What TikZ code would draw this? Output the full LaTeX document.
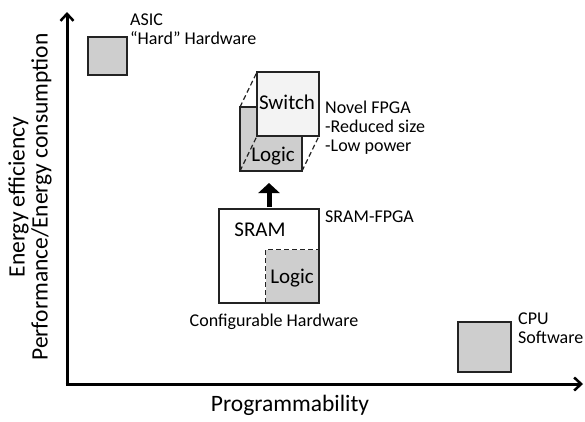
\documentclass[tikz,border=0pt]{standalone}
\usepackage{fontspec}
\setmainfont{Carlito}
\usetikzlibrary{arrows.meta}
\definecolor{boxgray}{RGB}{206,206,206}
\definecolor{lightface}{RGB}{243,243,243}
\definecolor{edge}{RGB}{35,35,35}
\tikzset{
  chip/.style={draw=edge, line width=2.4, inner sep=0, outer sep=0},
  hidden/.style={draw=edge, line width=1.2, dash pattern=on 5pt off 3pt},
  axis/.style={line width=3, -{Straight Barb[length=7pt,width=13pt,line width=2.5pt]}},
  smalllabel/.style={font=\fontsize{18}{19}\selectfont, align=left, inner sep=0, anchor=west},
  boxlabel/.style={font=\fontsize{21}{21}\selectfont, inner sep=0},
  axislabel/.style={font=\fontsize{23.5}{23}\selectfont, inner sep=0, align=center}
}
\begin{document}
\begin{tikzpicture}[x=1pt, y=-1pt]
\useasboundingbox (0,0) rectangle (585,421);

% axes
\coordinate (origin) at (67,384);
\coordinate (ytip) at (67,12);
\coordinate (xtip) at (583,384);
\draw[axis] ([yshift=-1.5pt]origin) -- (ytip);
\draw[axis] ([xshift=-1.5pt]origin) -- (xtip);

\node[axislabel, rotate=90] (ylab) at (30,197) {Energy efficiency\\Performance/Energy consumption};
\node[axislabel] (xlab) at (290,405) {Programmability};

% ASIC
\node[chip, fill=boxgray, minimum width=39, minimum height=38] (asic) at (107.5,56) {};
\node[smalllabel] (asiclab) at (130,29) {ASIC\\“Hard” Hardware};

% CPU
\node[chip, fill=boxgray, minimum width=53, minimum height=50] (cpu) at (484.5,347) {};
\node[smalllabel] (cpulab) at (518,328) {CPU\\Software};

% SRAM-FPGA
\node[chip, fill=white, minimum width=100, minimum height=94] (sram) at (269,256) {};
\node[fill=boxgray, inner sep=0, minimum width=53, minimum height=53] (slogic) at (292.5,276.5) {};
\draw[hidden] (slogic.south west) -- (slogic.north west) -- (slogic.north east);
\draw[chip] (sram.south west) rectangle (sram.north east);
\node[boxlabel] (sramtxt) at (260,230) {SRAM};
\node[boxlabel] (slogictxt) at (292,278) {Logic};
\node[smalllabel] (sramlab) at (325,217) {SRAM-FPGA};
\node[smalllabel, anchor=center] (conflab) at (274,322) {Configurable Hardware};

% Novel FPGA: logic layer under the switch layer
\node[chip, fill=boxgray, minimum width=62, minimum height=64] (nlogic) at (271,139) {};
\draw[hidden] (nlogic.south west) -- (288-31,136);
\node[chip, fill=lightface, minimum width=62, minimum height=64] (switch) at (288,104) {};
\draw[hidden] (nlogic.north west) -- (switch.north west);
\draw[hidden] (nlogic.south east) -- (switch.south east);
\node[boxlabel] (switchtxt) at (287,102) {Switch};
\node[boxlabel] (nlogictxt) at (273,156) {Logic};
\node[smalllabel] (novellab) at (325,128) {Novel FPGA\\-Reduced size\\-Low power};

% evolution arrow, straight up from the SRAM-FPGA
\draw[line width=5, -{Triangle[length=10pt,width=21pt]}]
  ([yshift=2pt]sram.north) -- ([yshift=-12pt]sram.north |- nlogic.south);
\end{tikzpicture}
\end{document}
